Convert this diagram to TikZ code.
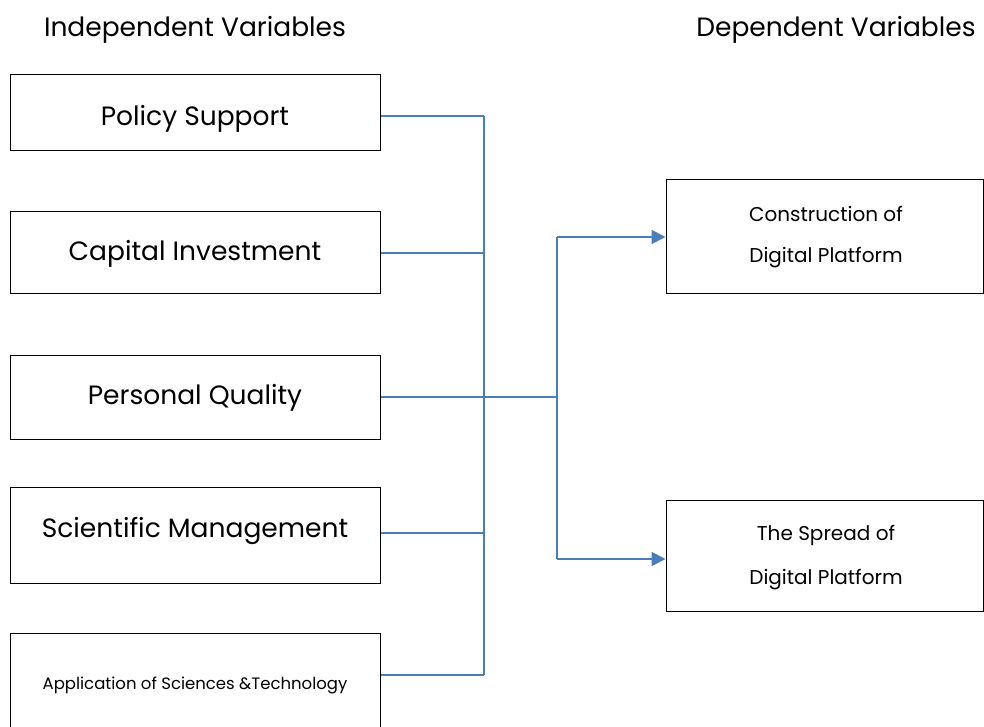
\documentclass[tikz,border=0pt]{standalone}
\usepackage{fontspec}
\setmainfont{Poppins}
\usetikzlibrary{arrows.meta}
\definecolor{connblue}{HTML}{4A7EBB}
\tikzset{
  box/.style={draw=black, line width=1pt, minimum width=370pt, inner sep=0pt},
  rbox/.style={draw=black, line width=1pt, minimum width=317pt, inner sep=0pt, align=center},
  conn/.style={draw=connblue, line width=1.8pt},
  arr/.style={conn, -{Triangle[length=14pt,width=14pt]}},
  big/.style={font=\fontsize{26.5}{30}\selectfont},
  small/.style={font=\fontsize{16.5}{20}\selectfont},
  mid/.style={font=\fontsize{20}{24}\selectfont}
}
\begin{document}
\begin{tikzpicture}[x=1pt,y=-1pt]
\useasboundingbox (0,0) rectangle (984,726);
\node[big] (hl) at (195,30) {Independent Variables};
\node[big] (hr) at (836,30) {Dependent Variables};

\node[box, minimum height=76pt] (ps) at (195,112) {};
\node[big] (pst) at (195,119) {Policy Support};
\node[box, minimum height=82pt] (ci) at (195,252) {};
\node[big] (cit) at (195,254) {Capital Investment};
\node[box, minimum height=84pt] (pq) at (195,397) {};
\node[big] (pqt) at (195,398) {Personal Quality};
\node[box, minimum height=96pt] (sm) at (195,535) {};
\node[big] (smt) at (195,531) {Scientific Management};
\node[box, minimum height=100pt] (as) at (195,683) {};
\node[small] (ast) at (195,685) {Application of Sciences \&Technology};

\node[rbox, minimum height=114pt] (cd) at (824.5,236) {};
\node[mid] (cd1) at (826,214) {Construction of};
\node[mid] (cd2) at (826,258) {Digital Platform};
\node[rbox, minimum height=111pt] (sd) at (824.5,555.5) {};
\node[mid] (sd1) at (826,535) {The Spread of};
\node[mid] (sd2) at (826,580) {Digital Platform};

\coordinate (j1) at (484,116);
\coordinate (j2) at (484,253);
\coordinate (j3) at (484,397);
\coordinate (j4) at (484,533);
\coordinate (j5) at (484,675);
\coordinate (k3) at (557,397);
\coordinate (kt) at (557,237);
\coordinate (kb) at (557,559);

\draw[conn] (ps.east |- j1) -- (j1);
\draw[conn] (ci.east |- j2) -- (j2);
\draw[conn] (pq.east |- j3) -- (k3);
\draw[conn] (sm.east |- j4) -- (j4);
\draw[conn] (as.east |- j5) -- (j5);
\draw[conn] (j1) -- (j5);
\draw[conn] (kt) -- (kb);
\draw[arr] (kt) -- (cd.west |- kt);
\draw[arr] (kb) -- (sd.west |- kb);
\end{tikzpicture}
\end{document}
